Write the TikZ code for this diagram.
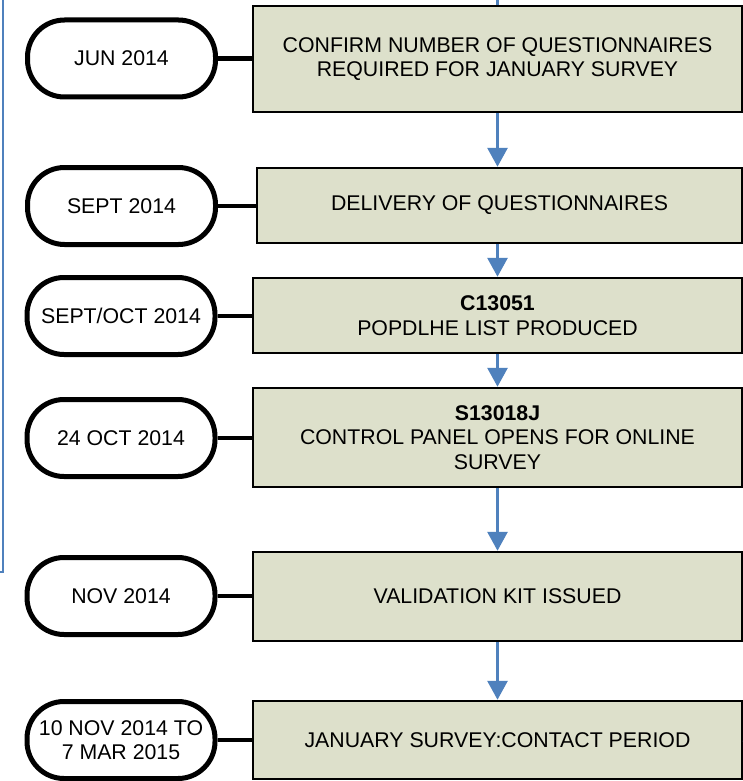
\documentclass[tikz,border=0pt]{standalone}
\usepackage{fontspec}
\setmainfont{Liberation Sans}
\usetikzlibrary{arrows.meta}
\definecolor{boxfill}{RGB}{221,224,203}
\definecolor{flowblue}{RGB}{79,129,189}
\tikzset{
  procbox/.style={draw=black, line width=2.5pt, fill=boxfill, align=center, inner sep=0pt,
    font=\fontsize{21.3}{24.5}\selectfont},
  datebox/.style={draw=black, line width=5pt, fill=white, rounded corners=37pt, align=center,
    inner sep=0pt, minimum width=188pt, minimum height=77pt,
    font=\fontsize{21.3}{24.5}\selectfont},
  link/.style={draw=black, line width=4.5pt},
  flow/.style={draw=flowblue, line width=3pt, -{Triangle[width=20pt,length=19pt]}},
  plainflow/.style={draw=flowblue, line width=3pt},
  edgeline/.style={draw=flowblue, line width=2pt}
}
\begin{document}
\begin{tikzpicture}[x=1pt,y=-1pt]
\useasboundingbox (0,0) rectangle (743,781);
\fill[white] (0,0) rectangle (743,781);

% left blue frame edge
\coordinate (fa) at (3,0);
\coordinate (fb) at (3,572);
\coordinate (fc) at (0,572);
\draw[edgeline] (fa) -- (fb) -- (fc);

% process boxes
\node[procbox, minimum width=489pt, minimum height=106pt] (b1) at (497.5,59)
  {CONFIRM NUMBER OF QUESTIONNAIRES\\REQUIRED FOR JANUARY SURVEY};
\node[procbox, minimum width=485pt, minimum height=75pt] (b2) at (499.5,205.5)
  {DELIVERY OF QUESTIONNAIRES};
\node[procbox, minimum width=489pt, minimum height=75pt] (b3) at (497.5,315.5)
  {\textbf{C13051}\\POPDLHE LIST PRODUCED};
\node[procbox, minimum width=489pt, minimum height=99pt] (b4) at (497.5,437.5)
  {\textbf{S13018J}\\CONTROL PANEL OPENS FOR ONLINE\\SURVEY};
\node[procbox, minimum width=489pt, minimum height=89pt] (b5) at (497.5,596.5)
  {VALIDATION KIT ISSUED};
\node[procbox, minimum width=489pt, minimum height=78pt] (b6) at (497.5,740)
  {JANUARY SURVEY:CONTACT PERIOD};

% date nodes
\node[datebox] (d1) at (121.5,58.5) {JUN 2014};
\node[datebox] (d2) at (121.5,206) {SEPT 2014};
\node[datebox] (d3) at (121,316) {SEPT/OCT 2014};
\node[datebox] (d4) at (121,438) {24 OCT 2014};
\node[datebox] (d5) at (121,596) {NOV 2014};
\node[datebox] (d6) at (121,740) {10 NOV 2014 TO\\7 MAR 2015};

% date-to-box links
\draw[link] (d1.east) -- (d1.east -| b1.west);
\draw[link] (d2.east) -- (d2.east -| b2.west);
\draw[link] (d3.east) -- (d3.east -| b3.west);
\draw[link] (d4.east) -- (d4.east -| b4.west);
\draw[link] (d5.east) -- (d5.east -| b5.west);
\draw[link] (d6.east) -- (d6.east -| b6.west);

% blue flow
\coordinate (top) at (497.5,0);
\draw[plainflow] (top) -- (b1.north);
\draw[flow] (b1.south) -- (b1.south |- b2.north);
\draw[flow] (b1.south |- b2.south) -- (b1.south |- b3.north);
\draw[flow] (b3.south) -- (b4.north);
\draw[flow] (b4.south) -- (b5.north);
\draw[flow] (b5.south) -- (b6.north);
\coordinate (outr) at (746,741);
\draw[plainflow] (b6.east) -- (outr);
\end{tikzpicture}
\end{document}
